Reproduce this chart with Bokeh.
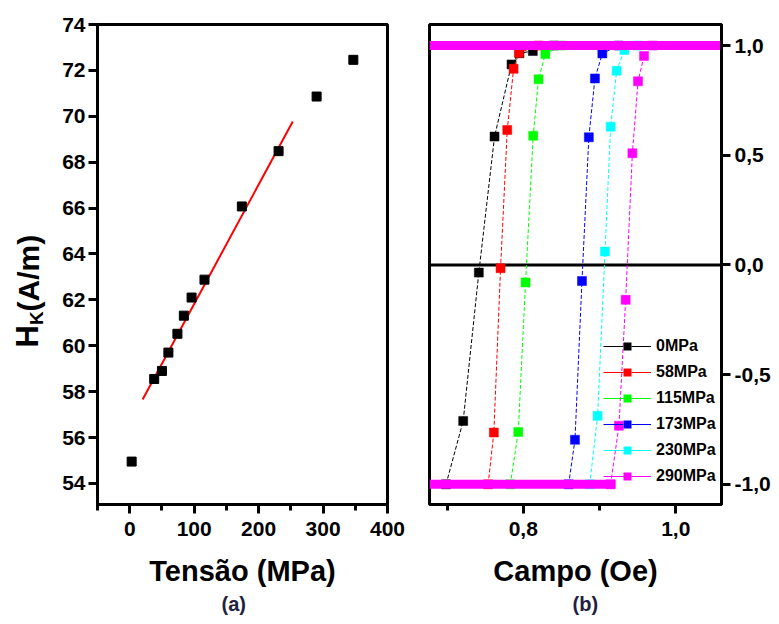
from bokeh.plotting import figure
from bokeh.layouts import row
from bokeh.models import (FixedTicker, CustomJSTickFormatter, Span, Title, Label,
                          Legend, LegendItem, Range1d)
from bokeh.embed import file_html
from bokeh.resources import INLINE
import math

FONT = "Liberation Sans"

# ---------------- panel (a) data ----------------
tension = [3, 38, 50, 60, 74, 84, 96, 116, 174, 231, 290, 347]
hk = [54.95, 58.55, 58.90, 59.70, 60.52, 61.31, 62.10, 62.88, 66.07, 68.48, 70.86, 72.46]
fit_x = [20, 253]
fit_slope = 0.0520
fit_intercept = 56.62
a_xticks = [0, 100, 200, 300, 400]
a_xminor = [-50, 50, 150, 250, 350]
a_yticks = [54, 56, 58, 60, 62, 64, 66, 68, 70, 72, 74]

# ---------------- panel (b) data ----------------
series_labels = ["0MPa", "58MPa", "115MPa", "173MPa", "230MPa", "290MPa"]
series_colors = ["#000000", "#FF0000", "#00FF00", "#0000FF", "#00FFFF", "#FF00FF"]
campo_0 = [0.6987, 0.7212, 0.7417, 0.7623, 0.7846, 0.7950, 0.8125, 0.8400]
mag_0 = [-1.0, -0.711, -0.035, 0.585, 0.914, 0.965, 0.975, 1.0]
campo_58 = [0.7539, 0.7614, 0.7702, 0.7790, 0.7873, 0.7943, 0.8200]
mag_58 = [-1.0, -0.764, -0.015, 0.615, 0.894, 0.967, 1.0]
campo_115 = [0.7830, 0.7934, 0.8030, 0.8130, 0.8200, 0.8289, 0.8500]
mag_115 = [-1.0, -0.761, -0.080, 0.589, 0.846, 0.961, 1.0]
campo_173 = [0.8595, 0.8678, 0.8770, 0.8860, 0.8940, 0.9037, 0.9250]
mag_173 = [-1.0, -0.797, -0.073, 0.582, 0.850, 0.964, 1.0]
campo_230 = [0.8872, 0.8975, 0.9072, 0.9146, 0.9225, 0.9326, 0.9500]
mag_230 = [-1.0, -0.688, 0.061, 0.630, 0.885, 0.980, 1.0]
campo_290 = [0.9145, 0.9255, 0.9343, 0.9431, 0.9505, 0.9584, 0.9700]
mag_290 = [-1.0, -0.733, -0.159, 0.509, 0.837, 0.952, 1.0]
sat_top_x = [0.677, 1.060]
sat_top_y = [1.0, 1.0]
sat_bot_x = [0.677, 0.921]
sat_bot_y = [-1.0, -1.0]
b_xticks = [0.8, 1.0]
b_xminor = [0.7, 0.9]
b_yticks = [-1.0, -0.5, 0.0, 0.5, 1.0]

campos = [campo_0, campo_58, campo_115, campo_173, campo_230, campo_290]
mags = [mag_0, mag_58, mag_115, mag_173, mag_230, mag_290]

# ---------------- layout constants ----------------
TOP = 24
FRAME_H = 480
BOTTOM = 116
TOTAL_H = TOP + FRAME_H + BOTTOM
FRAME_BOTTOM_ROW = TOP + FRAME_H   # row frames are aligned, so the strip's frame ends here


def style_axis(ax, label_size="21px"):
    ax.axis_line_width = 3
    ax.axis_line_color = "black"
    ax.major_tick_line_width = 3
    ax.minor_tick_line_width = 3
    ax.major_tick_line_color = "black"
    ax.minor_tick_line_color = "black"
    ax.major_tick_out = 9
    ax.major_tick_in = 0
    ax.minor_tick_out = 6
    ax.minor_tick_in = 0
    ax.major_label_text_font = FONT
    ax.major_label_text_font_style = "bold"
    ax.major_label_text_font_size = label_size
    ax.major_label_text_color = "black"
    ax.axis_label_text_font = FONT
    ax.axis_label_text_font_style = "bold"
    ax.axis_label_text_font_size = "29px"
    ax.axis_label_text_color = "black"


def panel_tag(text, offset):
    return Title(text=text, align="left", offset=offset, standoff=2,
                 text_font=FONT, text_font_style="bold", text_font_size="20px",
                 text_color="#1e2140")


# ---------------- y-title strip (H_K(A/m)), rotated labels ----------------
py = figure(width=50, height=TOTAL_H, x_range=(0, 50), y_range=(0, 1),
            output_backend="svg", toolbar_location=None, title=None,
            x_axis_location=None, y_axis_location=None,
            min_border_left=0, min_border_right=0, min_border_top=TOP, min_border_bottom=BOTTOM)
py.grid.visible = False
py.outline_line_color = None
h_size, k_size, r_size = 31, 19, 30
baseline_x = 38          # pixel column of the main baseline
start_row = 347          # pixel row (from the top) where the title starts
pieces = [("H", h_size, 0.722 * h_size, 0),
          ("K", k_size, 0.722 * k_size, 5),
          ("(A/m)", r_size, 2.555 * r_size, 0)]
cursor = start_row
for tt, ts, adv, shift in pieces:
    cy_row = cursor - adv / 2
    cx = baseline_x + shift - 0.35 * ts
    py.add_layout(Label(x=cx, y=FRAME_BOTTOM_ROW - cy_row, x_units="screen", y_units="screen",
                        text=tt, angle=math.pi / 2, text_font=FONT, text_font_style="bold",
                        text_font_size=f"{ts}px", text_color="black",
                        text_align="center", text_baseline="middle"))
    cursor -= adv

# ---------------- figure (a) ----------------
pa = figure(frame_width=290, frame_height=FRAME_H, x_range=(-50, 400), y_range=(53.08, 74),
            output_backend="svg", toolbar_location=None, title=None,
            min_border_left=47, min_border_right=18, min_border_top=TOP, min_border_bottom=BOTTOM)
pa.grid.visible = False
pa.outline_line_color = "black"
pa.outline_line_width = 3
pa.outline_line_alpha = 1
pa.xaxis.ticker = FixedTicker(ticks=a_xticks, minor_ticks=a_xminor)
pa.yaxis.ticker = FixedTicker(ticks=a_yticks, minor_ticks=[])
style_axis(pa.xaxis[0])
style_axis(pa.yaxis[0])
pa.xaxis.major_label_standoff = 8
pa.yaxis.major_label_standoff = 3
pa.xaxis.axis_label = "Tensão (MPa)"
pa.xaxis.axis_label_standoff = 16

pa.line(fit_x, [fit_intercept + fit_slope * x for x in fit_x],
        line_color="#FF0000", line_width=2)
pa.scatter(tension, hk, marker="square", size=9, fill_color="black", line_color="black")
pa.add_layout(panel_tag("(a)", 124), "below")

# ---------------- figure (b) ----------------
pb = figure(frame_width=292, frame_height=FRAME_H, x_range=(0.677, 1.06), y_range=(-1.092, 1.096),
            output_backend="svg", toolbar_location=None, title=None, y_axis_location="right",
            min_border_left=24, min_border_right=54, min_border_top=TOP, min_border_bottom=BOTTOM)
pb.grid.visible = False
pb.outline_line_color = "black"
pb.outline_line_width = 3
pb.outline_line_alpha = 1
pb.xaxis.ticker = FixedTicker(ticks=b_xticks, minor_ticks=b_xminor)
pb.yaxis.ticker = FixedTicker(ticks=b_yticks, minor_ticks=[])
pb.xaxis.formatter = CustomJSTickFormatter(code="return tick.toFixed(1).replace('.', ',');")
pb.yaxis.formatter = CustomJSTickFormatter(code="return tick.toFixed(1).replace('.', ',');")
style_axis(pb.xaxis[0])
style_axis(pb.yaxis[0])
pb.xaxis.major_label_standoff = 8
pb.yaxis.major_label_standoff = 4
pb.xaxis.axis_label = "Campo (Oe)"
pb.xaxis.axis_label_standoff = 16

pb.add_layout(Span(location=0, dimension="width", line_color="black", line_width=3,
                   level="underlay"))

for cx, my, col in zip(campos, mags, series_colors):
    pb.line(cx, my, line_color=col, line_width=1, line_dash="4 2")
    pb.scatter(cx, my, marker="square", size=9, fill_color=col, line_color=col, line_width=0.5)

pb.line(sat_top_x, sat_top_y, line_color="#FF00FF", line_width=9)
pb.line(sat_bot_x, sat_bot_y, line_color="#FF00FF", line_width=9)

# legend-only renderers: same data, mapped through a range where they fall out of view
pb.extra_x_ranges = {"legend_only": Range1d(10, 11)}
items = []
for lab, col, cx, my in zip(series_labels, series_colors, campos, mags):
    lr = pb.line(cx, my, line_color=col, line_width=1, x_range_name="legend_only")
    wr = pb.scatter(cx, my, marker="square", size=17, fill_color="white", line_color=None,
                    x_range_name="legend_only")
    sr = pb.scatter(cx, my, marker="square", size=9, fill_color=col, line_color=None,
                    x_range_name="legend_only")
    items.append(LegendItem(label=lab, renderers=[lr, wr, sr]))
legend = Legend(items=items, location=(174, 18), glyph_width=48, glyph_height=20,
                spacing=6, padding=0, margin=0, label_standoff=5,
                background_fill_alpha=0, border_line_alpha=0,
                label_text_font=FONT, label_text_font_style="bold",
                label_text_font_size="16px", label_text_color="black")
pb.add_layout(legend)
pb.add_layout(panel_tag("(b)", 143), "below")

layout = row(py, pa, pb)
with open("out.html", "w") as f:
    f.write(file_html(layout, INLINE))
